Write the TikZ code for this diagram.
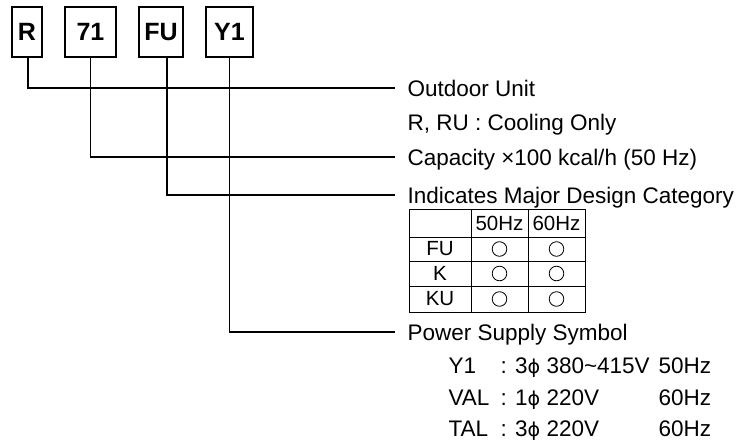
\documentclass[tikz,border=0pt]{standalone}
\usepackage{fontspec}
\setmainfont{Liberation Sans}
\newfontfamily\phifont{DejaVu Sans}[Scale=0.85]
\newcommand{\phisym}{{\phifont ϕ}}
\begin{document}
\begin{tikzpicture}[x=1pt,y=-1pt,
  line width=1.1pt,
  codebox/.style={draw, inner sep=0pt, minimum height=50pt, font=\fontsize{25}{29}\selectfont\bfseries},
  lbl/.style={anchor=base west, inner sep=0pt, font=\fontsize{22.5}{26}\selectfont},
  cell/.style={inner sep=0pt, font=\fontsize{20.5}{24}\selectfont},
  tick/.style={line width=0.8pt}]
\useasboundingbox (0,0) rectangle (738,441);
% code boxes
\node[codebox, minimum width=30pt] (bR) at (27,32) {R};
\node[codebox, minimum width=51pt] (b71) at (90.5,32) {71};
\node[codebox, minimum width=44pt] (bFU) at (161,32) {FU};
\node[codebox, minimum width=47pt] (bY1) at (229.5,32) {Y1};
% labels
\node[lbl] (tOut) at (407,97) {Outdoor Unit};
\node[lbl] (tCool) at (407,131) {R, RU : Cooling Only};
\node[lbl] (tCap) at (407,165) {Capacity ×100 kcal/h (50 Hz)};
\node[lbl] (tInd) at (407,203) {Indicates Major Design Category};
\node[lbl] (tPow) at (407,340) {Power Supply Symbol};
% power rows
\node[lbl] (pY) at (448,373) {Y1};
\node[lbl] (pYc) at (500,373) {: 3\phisym\ 380\textasciitilde415V};
\node[lbl] (pYh) at (658,373) {50Hz};
\node[lbl] (pV) at (448,405) {VAL};
\node[lbl] (pVc) at (500,405) {: 1\phisym\ 220V};
\node[lbl] (pVh) at (658,405) {60Hz};
\node[lbl] (pT) at (448,436) {TAL};
\node[lbl] (pTc) at (500,436) {: 3\phisym\ 220V};
\node[lbl] (pTh) at (658,436) {60Hz};
% connectors
\draw ([xshift=1pt]bR.south) |- ([shift={(-12pt,9pt)}]tOut.base west);
\draw (b71.south) |- ([shift={(-12pt,8pt)}]tCap.base west);
\draw ([xshift=6pt]bFU.south) |- ([shift={(-12pt,8pt)}]tInd.base west);
\draw (bY1.south) |- ([shift={(-12pt,8pt)}]tPow.base west);
% table
\begin{scope}[line width=0.9pt]
\draw (409,209) rectangle (585,312);
\draw (471,209) -- (471,312);
\draw (528,209) -- (528,312);
\draw (409,237) -- (585,237);
\draw (409,261) -- (585,261);
\draw (409,286) -- (585,286);
\end{scope}
\node[cell] (h50) at (499.5,223) {50Hz};
\node[cell] (h60) at (556.5,223) {60Hz};
\node[cell] (rFU) at (440,249) {FU};
\node[cell] (rK) at (440,273.5) {K};
\node[cell] (rKU) at (440,299) {KU};
\foreach \yy in {249,273.5,299}{
  \draw[tick] (499.5,\yy) circle (7.3);
  \draw[tick] (556.5,\yy) circle (7.3);
}
\end{tikzpicture}
\end{document}
